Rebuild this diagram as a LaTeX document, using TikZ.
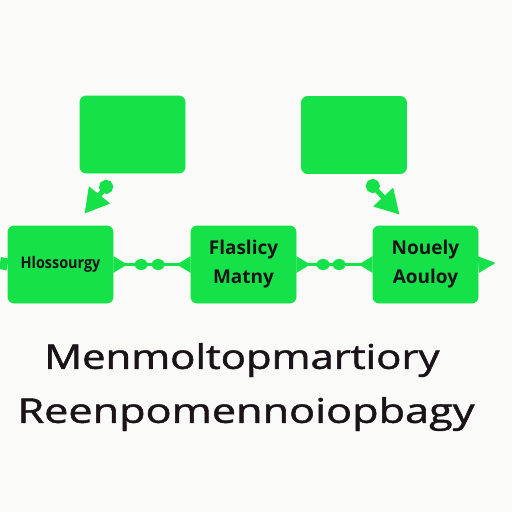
\documentclass[tikz,border=0pt]{standalone}
\usepackage{fontspec}
\setmainfont{Open Sans}
\newfontfamily\titlefont[FakeBold=1.3]{Open Sans}
\usetikzlibrary{positioning,arrows.meta,shapes.geometric}
\definecolor{boxgreen}{RGB}{20,226,72}
\definecolor{inkblack}{RGB}{26,20,24}
\definecolor{paper}{RGB}{250,250,248}
\tikzset{
  box/.style={fill=boxgreen,draw=boxgreen,rounded corners=6pt,minimum width=105pt,minimum height=77pt,inner sep=2pt,text=inkblack,align=center},
  link/.style={draw=boxgreen,line width=2.5pt,arrows={Triangle[reversed,width=16pt,length=14pt]-Triangle[reversed,width=16pt,length=14pt]}},
  blob/.style={ellipse,fill=boxgreen,inner sep=0pt,minimum width=13pt,minimum height=11pt},
  drop/.style={draw=boxgreen,line width=5pt,arrows={Circle[length=14pt]-Triangle[width=26pt,length=24pt]}}
}
\begin{document}
\begin{tikzpicture}[x=1pt,y=-1pt,thick]
  \fill[paper] (0,0) rectangle (512,512);
  \useasboundingbox (0,0) rectangle (512,512);

  \node[box,font=\bfseries\fontsize{16}{18}\selectfont] (sourcebox) at (60.5,264.5) {\scalebox{.9}[1]{Hlossourgy}};
  \node[box,right of=sourcebox,node distance=183pt,font=\bfseries\fontsize{19}{29}\selectfont] (middlebox) {Flaslicy\\Matny};
  \node[box,right of=middlebox,node distance=182pt,font=\bfseries\fontsize{19}{29}\selectfont] (rightbox) {Nouely\\Aouloy};
  \node[box] (topleft) at (132.5,134.5) {};
  \node[box] (topright) at (354,135) {};

  \draw[drop] ([xshift=-22pt,yshift=-8pt]topleft.south) -- ([xshift=24pt,yshift=12pt]sourcebox.north);
  \draw[drop] ([xshift=14pt,yshift=-7pt]topright.south) -- ([xshift=-26pt,yshift=11pt]rightbox.north);

  \draw[link] (sourcebox.east) -- node[pos=.36,blob]{} node[pos=.58,blob]{} (middlebox.west);
  \draw[link] (middlebox.east) -- node[pos=.35,blob]{} node[pos=.56,blob]{} (rightbox.west);
  \coordinate (leftend) at (0,263);
  \coordinate (rightend) at (494,263);
  \draw[boxgreen,line width=12pt] (sourcebox.west) -- (leftend);
  \draw[boxgreen,line width=2.5pt,arrows={Triangle[reversed,width=16pt,length=17pt]-}] (rightbox.east) -- (rightend);

  \node[text=inkblack,font=\titlefont\fontsize{34}{40}\selectfont] (titleone) at (242,360) {\scalebox{1.23}[1]{Menmoltopmartiory}};
  \node[text=inkblack,font=\titlefont\fontsize{34}{40}\selectfont] (titletwo) at (246,414) {\scalebox{1.27}[1]{Reenpomennoiopbagy}};
\end{tikzpicture}
\end{document}
